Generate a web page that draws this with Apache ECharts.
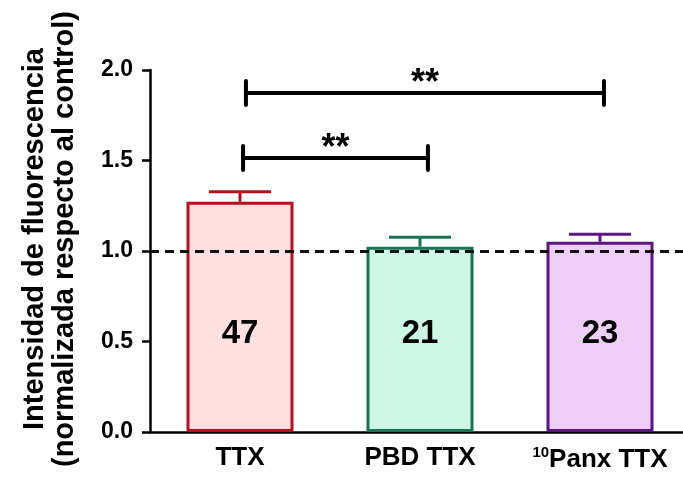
<!DOCTYPE html>
<html>
<head>
<meta charset="utf-8">
<script src="https://cdn.jsdelivr.net/npm/echarts@6/dist/echarts.min.js"></script>
<style>
html,body{margin:0;padding:0;background:#fff;}
#chart{width:683px;height:484px;}
</style>
</head>
<body>
<div id="chart"></div>
<script>
// ---- data ----
const categories = ['TTX', 'PBD TTX', 'Panx TTX'];
const superscripts = ['', '', '10'];
const means = [1.272, 1.024, 1.051];
const sem = [0.056, 0.052, 0.041];
const nCells = [47, 21, 23];
const nLabelY = 0.54;
const referenceLevel = 1.0;
const bracketStart = [0.033, 0.017];
const bracketEnd = [2.022, 1.044];
const bracketY = [1.873, 1.514];
const bracketText = ['**', '**'];

// ---- styles ----
const borderColors = ['#b3121c', '#1a7450', '#5c1682'];
const fillColors = ['#fee0e1', '#cdf6e5', '#eecdf7'];
const FONT = 'Liberation Sans';

const chart = echarts.init(document.getElementById('chart'), null, {renderer: 'canvas'});

const barData = means.map((v, i) => ({
  value: v,
  itemStyle: {color: fillColors[i], borderColor: borderColors[i], borderWidth: 3}
}));

const option = {
  animation: false,
  backgroundColor: '#ffffff',
  grid: {left: 150, top: 70, bottom: 52, width: 540, containLabel: false, outerBoundsMode: 'none'},
  xAxis: [{
    type: 'category',
    data: categories,
    axisLine: {onZero: false, lineStyle: {color: '#000', width: 2.5}},
    axisTick: {alignWithLabel: true, length: 8, lineStyle: {color: '#000', width: 2.5}},
    axisLabel: {
      interval: 0,
      margin: 13,
      color: '#000',
      fontFamily: FONT,
      fontWeight: 'bold',
      fontSize: 26,
      formatter: (v, i) => superscripts[i] ? '{sup|' + superscripts[i] + '}' + v : v,
      rich: {sup: {fontSize: 15, fontWeight: 'bold', fontFamily: FONT, color: '#000', padding: [0, 0, 14, 0]}}
    }
  }, {
    type: 'value', min: -0.5, max: 2.5, show: false
  }],
  yAxis: {
    type: 'value',
    min: 0, max: 2, interval: 0.5,
    splitLine: {show: false},
    axisLine: {show: true, onZero: false, lineStyle: {color: '#000', width: 2.5}},
    axisTick: {show: true, length: 8, lineStyle: {color: '#000', width: 2.5}},
    axisLabel: {
      margin: 17, color: '#000', fontFamily: FONT, fontWeight: 'bold', fontSize: 23,
      formatter: v => v.toFixed(1)
    },
    name: 'Intensidad de fluorescencia\n(normalizada respecto al control)',
    nameLocation: 'middle',
    nameRotate: 90,
    nameGap: 70,
    nameTextStyle: {color: '#000', fontFamily: FONT, fontWeight: 'bold', fontSize: 29, lineHeight: 30, padding: [0, 0, 0, 24]}
  },
  series: [
    {
      type: 'bar',
      data: barData,
      barWidth: 107,
      z: 2,
      markLine: {
        silent: true,
        symbol: ['none', 'none'],
        label: {show: false},
        lineStyle: {color: '#111', width: 3, type: [9, 6]},
        data: [{yAxis: referenceLevel}],
        z: 3
      }
    },
    {
      type: 'custom',
      z: 4,
      data: means.map((m, i) => [i, m, sem[i]]),
      renderItem: (params, api) => {
        const i = api.value(0);
        const top = api.coord([i, api.value(1) + api.value(2)]);
        const base = api.coord([i, api.value(1)]);
        const c = borderColors[i];
        return {
          type: 'group',
          children: [
            {type: 'line', shape: {x1: base[0], y1: base[1], x2: top[0], y2: top[1]}, style: {stroke: c, lineWidth: 3}},
            {type: 'line', shape: {x1: top[0] - 31, y1: top[1], x2: top[0] + 31, y2: top[1]}, style: {stroke: c, lineWidth: 3}}
          ]
        };
      }
    },
    {
      type: 'custom',
      z: 5,
      data: nCells.map((n, i) => [i, nLabelY, n]),
      renderItem: (params, api) => {
        const p = api.coord([api.value(0), api.value(1)]);
        return {
          type: 'text',
          style: {text: String(api.value(2)), x: p[0], y: p[1], align: 'center', verticalAlign: 'middle',
            fill: '#000', font: 'bold 33px "' + FONT + '"'}
        };
      }
    },
    {
      type: 'custom',
      xAxisIndex: 1,
      z: 5,
      data: bracketStart.map((s, i) => [s, bracketEnd[i], bracketY[i], i]),
      renderItem: (params, api) => {
        const a = api.coord([api.value(0), api.value(2)]);
        const b = api.coord([api.value(1), api.value(2)]);
        const t = bracketText[api.value(3)];
        const st = {stroke: '#000', lineWidth: 4, lineCap: 'round'};
        return {
          type: 'group',
          children: [
            {type: 'line', shape: {x1: a[0], y1: a[1], x2: b[0], y2: b[1]}, style: st},
            {type: 'line', shape: {x1: a[0], y1: a[1] - 12, x2: a[0], y2: a[1] + 12}, style: st},
            {type: 'line', shape: {x1: b[0], y1: b[1] - 12, x2: b[0], y2: b[1] + 12}, style: st},
            {type: 'text', style: {text: t, x: (a[0] + b[0]) / 2, y: a[1] + 9, align: 'center', verticalAlign: 'bottom',
              fill: '#000', font: 'bold 36px "' + FONT + '"'}}
          ]
        };
      }
    }
  ]
};
chart.setOption(option);
</script>
</body>
</html>
